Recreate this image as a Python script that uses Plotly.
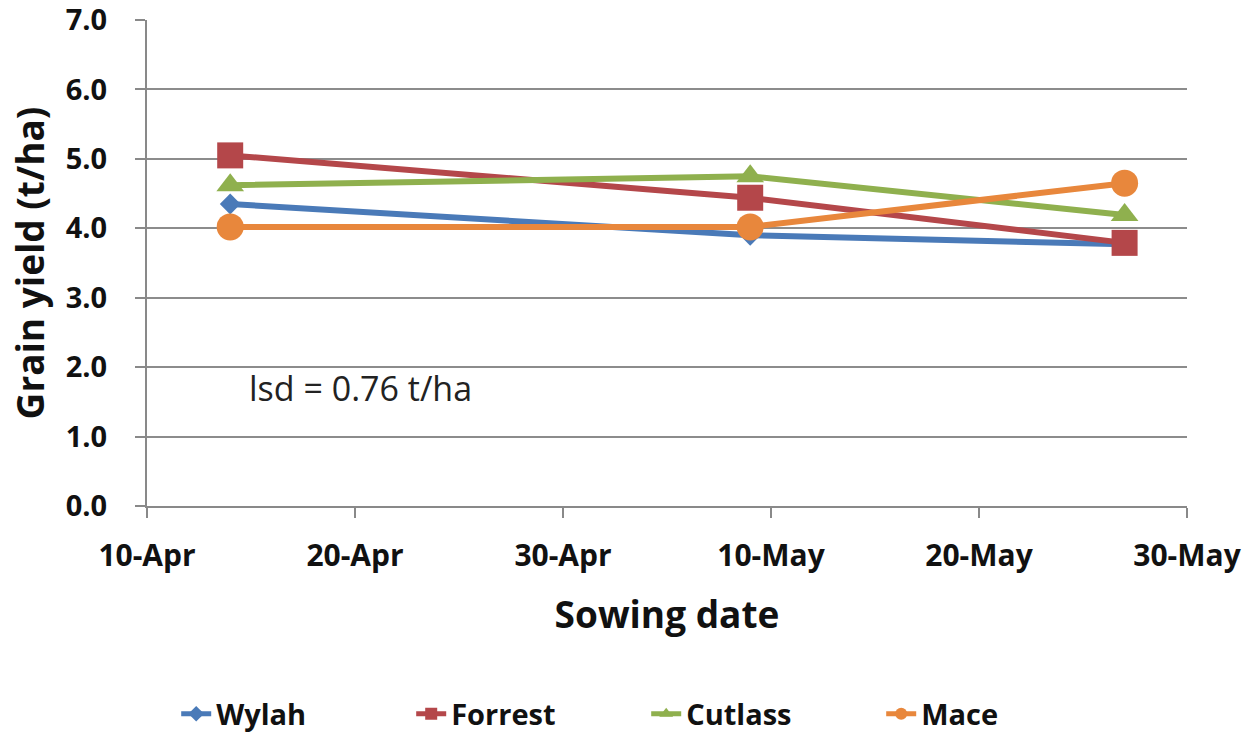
import plotly.graph_objects as go

sowing_dates = ['2012-04-14', '2012-05-09', '2012-05-27']
wylah = [4.35, 3.90, 3.77]
forrest = [5.05, 4.44, 3.79]
cutlass = [4.62, 4.75, 4.19]
mace = [4.02, 4.02, 4.65]

series = [
    ('Wylah', wylah, '#4A7AB8', 'diamond', 16),
    ('Forrest', forrest, '#B4474A', 'square', 26),
    ('Cutlass', cutlass, '#8FB04E', 'triangle-up', 24),
    ('Mace', mace, '#E8873C', 'circle', 27),
]

fnt = 'Open Sans'

fig = go.Figure()
for name, vals, color, symbol, size in series:
    fig.add_trace(go.Scatter(x=sowing_dates, y=vals, name=name, mode='lines+markers',
                             line=dict(color=color, width=6),
                             marker=dict(symbol=symbol, size=size, color=color)))

fig.add_annotation(text='lsd = 0.76 t/ha', xref='paper', yref='paper', x=0.096, y=0.243,
                   xanchor='left', yanchor='middle', showarrow=False,
                   font=dict(size=34, color='#222', family=fnt))

fig.update_layout(
    width=1249, height=739,
    margin=dict(l=147, r=62, t=20, b=233),
    paper_bgcolor='white', plot_bgcolor='white',
    font=dict(family=fnt, color='#111'),
    showlegend=True,
    legend=dict(orientation='h', x=0.48, xanchor='center', yref='container', y=0.034, yanchor='middle',
                font=dict(size=29, family=fnt, weight='bold'), tracegroupgap=0,
                entrywidth=190, itemsizing='constant'),
    xaxis=dict(
        type='date', range=['2012-04-10', '2012-05-30'],
        tick0='2012-04-10', dtick=864000000, tickformat='%-d-%b',
        showgrid=False, showline=True, linecolor='#898989', linewidth=2,
        ticks='outside', ticklen=10, tickcolor='#898989', tickwidth=2,
        tickfont=dict(size=30, family=fnt, color='#111', weight='bold'),
        ticklabelstandoff=12, ticklabeloverflow='allow',
        automargin=False,
        title=dict(text='Sowing date', font=dict(size=37, family=fnt, weight='bold'), standoff=28),
    ),
    yaxis=dict(
        range=[0, 7], dtick=1, tickformat='.1f',
        showgrid=True, gridcolor='#8c8c8c', gridwidth=2,
        showline=True, linecolor='#898989', linewidth=2,
        ticks='outside', ticklen=10, tickcolor='#898989', tickwidth=2,
        tickfont=dict(size=29, family=fnt, color='#111', weight='bold'),
        ticklabelstandoff=22, ticklabeloverflow='allow',
        zeroline=False, automargin=False,
        title=dict(text='Grain yield (t/ha)', font=dict(size=37, family=fnt, weight='bold'), standoff=10),
    ),
)

# drop the default 8px page margin so the figure fills the window
fig.write_html('out.html', config={'displayModeBar': False},
               post_script="document.body.style.margin='0';")
